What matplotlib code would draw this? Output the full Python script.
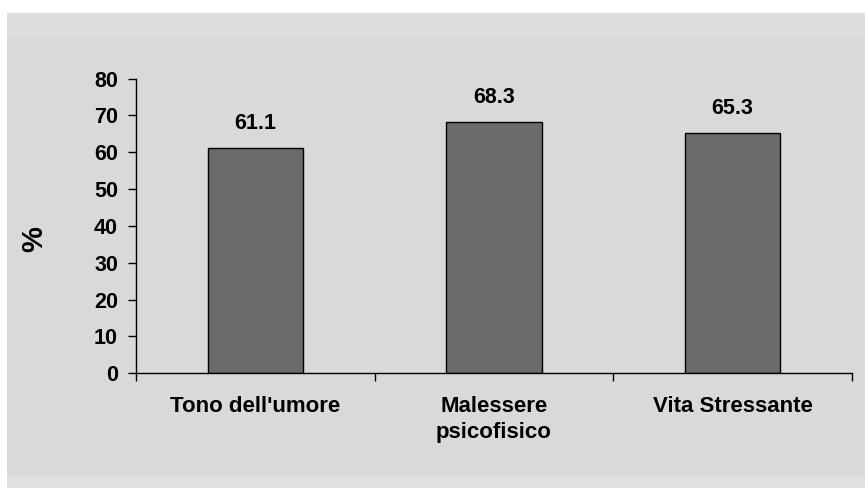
import matplotlib.pyplot as plt
from matplotlib.patches import Rectangle

categories = ["Tono dell'umore", "Malessere\npsicofisico", "Vita Stressante"]
values = [61.1, 68.3, 65.3]
yticks = [0, 10, 20, 30, 40, 50, 60, 70, 80]

plt.rcParams['font.family'] = ['Liberation Sans', 'DejaVu Sans']
plt.rcParams['font.weight'] = 'bold'

W, H = 865, 488
fig = plt.figure(figsize=(W / 100, H / 100), dpi=100)
fig.patch.set_facecolor('white')


def band(y0, y1, color):
    # y0, y1 in pixels from the top
    fig.patches.append(Rectangle((7 / W, (H - y1) / H), 1, (y1 - y0) / H,
                                 transform=fig.transFigure, facecolor=color,
                                 edgecolor='none', zorder=-2))


band(13, 38, '#dcdddf')
band(38, 475, '#d9d9d9')
band(475, 488, '#e0e0e0')

ax = fig.add_axes([136 / W, 0.235, (852 - 136) / W, 0.604])
ax.set_facecolor('none')

x = range(len(categories))
ax.bar(x, values, width=0.4, color='#6b6b6b', edgecolor='black', linewidth=1)

for i, v in enumerate(values):
    ax.text(i, v + 5.2, f"{v:.1f}", ha='center', va='baseline',
            fontsize=15.5, fontweight='bold')

ax.set_xlim(-0.5, len(categories) - 0.5)
ax.set_ylim(0, 80)
ax.set_yticks(yticks)
ax.set_yticklabels([str(t) for t in yticks], fontsize=15.5, fontweight='bold')

# category labels between boundary ticks
ax.set_xticks([i - 0.5 for i in range(len(categories) + 1)])
ax.set_xticklabels([])
ax.set_xticks(list(x), minor=True)
ax.set_xticklabels(categories, minor=True, fontsize=16, fontweight='bold',
                   linespacing=1.35, va='top')
ax.tick_params(axis='x', which='minor', length=0, pad=16)
ax.tick_params(axis='x', which='major', length=6, direction='out', width=1)
ax.tick_params(axis='y', length=6, direction='out', width=1, pad=7)

for s in ['top', 'right']:
    ax.spines[s].set_visible(False)
ax.spines['left'].set_linewidth(1)
ax.spines['bottom'].set_linewidth(1)

ax.set_ylabel('%', fontsize=21, fontweight='bold')
ax.yaxis.set_label_coords((48 - 136) / (852 - 136), (373.3 - 239) / 294.7)

fig.savefig('out.png', dpi=100)
